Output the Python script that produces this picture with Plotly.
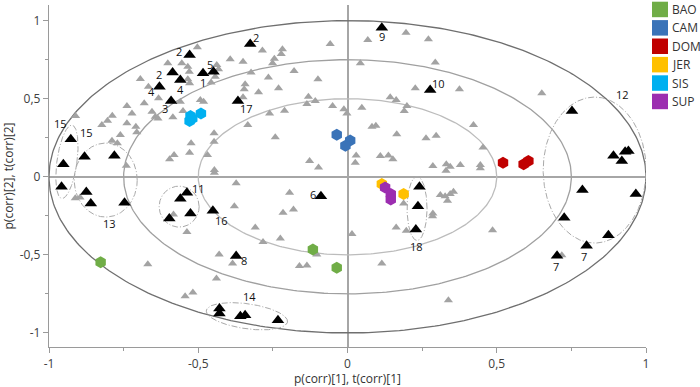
import numpy as np
import plotly.graph_objects as go

# ---------------- data ----------------
gray_x = [-0.503, -0.602, -0.555, -0.535, -0.530, -0.535, -0.529, -0.438, -0.432, -0.393, -0.443, -0.457,
          -0.694, -0.667, -0.633, -0.681, -0.739, -0.722, -0.788, -0.823, -0.804, -0.739, -0.709, -0.706,
          -0.761, -0.789, -0.771, -0.741, -0.655, -0.644, -0.635, -0.585, -0.560, -0.493, -0.482, -0.524,
          -0.529, -0.596, -0.581, -0.469, -0.447, -0.447, -0.446, -0.911, -0.551,
          -0.350, -0.285, -0.218, -0.222, -0.245, -0.251, -0.058, -0.323, -0.265, -0.179, -0.099, -0.343,
          -0.346, -0.298, -0.231, -0.350, -0.131, -0.108, -0.136, -0.050, -0.012, -0.002, 0.048, -0.261,
          -0.211, -0.334, -0.242, -0.127, -0.097, 0.029, 0.026, 0.068, 0.196, 0.271, 0.043, 0.294, 0.227,
          0.375, 0.143, 0.163, 0.199, 0.190, 0.082, 0.095, 0.165, 0.263, 0.297, 0.110, 0.137, 0.152, 0.286,
          0.331, 0.344, 0.378, 0.330, 0.651, 0.422, 0.454, 0.445, 0.445,
          -0.912, -0.896, -0.583, -0.538, -0.373, -0.379, -0.430, -0.385, -0.439, -0.669, -0.544, -0.518,
          -0.446, -0.194, -0.216, -0.181, -0.309, -0.283, -0.225, -0.103, -0.161, -0.136, 0.015, 0.115,
          0.163, 0.197, 0.188, 0.286, 0.285, 0.311, 0.327, 0.344, 0.355, 0.335, 0.338, 0.718, 0.486]
gray_y = [0.829, 0.727, 0.727, 0.705, 0.673, 0.624, 0.599, 0.716, 0.688, 0.753, 0.641, 0.603,
          0.626, 0.577, 0.503, 0.471, 0.453, 0.406, 0.391, 0.331, 0.359, 0.342, 0.321, 0.285,
          0.267, 0.231, 0.214, 0.071, 0.417, 0.385, 0.374, 0.381, 0.481, 0.492, 0.481, 0.214,
          0.154, 0.112, 0.139, 0.139, 0.278, 0.224, 0.026, 0.389, 0.421,
          0.737, 0.808, 0.817, 0.787, 0.756, 0.727, 0.851, 0.667, 0.635, 0.678, 0.624, 0.592,
          0.560, 0.541, 0.567, 0.509, 0.513, 0.485, 0.466, 0.453, 0.432, 0.406, 0.442, 0.406,
          0.423, 0.331, 0.253, 0.101, 0.060, 0.137, 0.090, 0.876, 0.923, 0.881, 0.727, 0.731, 0.567,
          0.560, 0.509, 0.492, 0.453, 0.421, 0.321, 0.327, 0.272, 0.246, 0.263, 0.133, 0.137, 0.113, 0.069,
          0.081, 0.064, 0.075, 0.038, 0.535, 0.331, 0.188, 0.075, 0.054,
          -0.137, -0.132, -0.241, -0.354, -0.042, -0.188, -0.497, -0.555, -0.651, -0.560, -0.765, -0.741,
          0.043, -0.103, -0.231, -0.209, -0.324, -0.417, -0.395, -0.497, -0.572, -0.568, -0.367, -0.555,
          -0.324, -0.346, -0.171, -0.235, -0.252, -0.117, -0.124, -0.111, -0.096, -0.154, -0.790, -0.502, -0.342]

black_x = [-0.529, -0.326, -0.586, -0.560, -0.630, -0.591, -0.484, -0.449, -0.367, 0.115, 0.277,
           -0.927, -0.881, -0.781, -0.952, -0.958, -0.875, -0.860, -0.747, -0.560, -0.538, -0.526, -0.597,
           -0.451, -0.373, -0.089, -0.429, -0.429, -0.359, -0.343, -0.233, 0.241, 0.236, 0.229,
           0.752, 0.891, 0.930, 0.941, 0.919, 0.787, 0.966, 0.726, 0.874, 0.801, 0.702]
black_y = [0.780, 0.851, 0.667, 0.620, 0.577, 0.485, 0.663, 0.673, 0.485, 0.955, 0.556,
           0.240, 0.128, 0.135, 0.081, -0.064, -0.098, -0.171, -0.167, -0.141, -0.103, -0.235, -0.267,
           -0.218, -0.508, -0.124, -0.844, -0.876, -0.893, -0.887, -0.919, -0.064, -0.188, -0.337,
           0.421, 0.135, 0.160, 0.165, 0.101, -0.085, -0.111, -0.263, -0.374, -0.442, -0.506]

label_text = ["2", "2", "2", "4", "4", "3", "1", "5", "17", "9", "10", "15", "15", "13", "11",
              "16", "8", "6", "14", "18", "12", "7", "7"]
label_x = [-0.566, -0.306, -0.631, -0.658, -0.560, -0.611, -0.484, -0.460, -0.339, 0.115, 0.305,
           -0.962, -0.875, -0.797, -0.500, -0.423, -0.346, -0.114, -0.328, 0.232, 0.921, 0.793, 0.698]
label_y = [0.801, 0.891, 0.652, 0.545, 0.560, 0.438, 0.603, 0.716, 0.438, 0.897, 0.599,
           0.342, 0.282, -0.299, -0.074, -0.282, -0.534, -0.111, -0.769, -0.449, 0.528, -0.508, -0.572]

groups = ["BAO", "CAM", "DOM", "JER", "SIS", "SUP"]
group_colors = ["#70AD47", "#3A73B8", "#C00000", "#FFC000", "#00B0F0", "#9C2DB0"]
BAO_x = [-0.827, -0.116, -0.036]
BAO_y = [-0.547, -0.465, -0.583]
CAM_x = [-0.036, 0.009, -0.007]
CAM_y = [0.269, 0.233, 0.199]
DOM_x = [0.521, 0.590, 0.606]
DOM_y = [0.090, 0.081, 0.101]
JER_x = [0.115, 0.188]
JER_y = [-0.047, -0.111]
SIS_x = [-0.526, -0.491, -0.529, -0.520]
SIS_y = [0.389, 0.406, 0.357, 0.373]
SUP_x = [0.126, 0.145, 0.145]
SUP_y = [-0.068, -0.111, -0.145]
group_x = [BAO_x, CAM_x, DOM_x, JER_x, SIS_x, SUP_x]
group_y = [BAO_y, CAM_y, DOM_y, JER_y, SIS_y, SUP_y]

# concentric reference ellipses (radius in axis units)
ring_r = [1.0, 0.75, 0.5]
ring_colors = ["#6f6f6f", "#a0a0a0", "#bcbcbc"]

# small cluster ellipses: center (data), half-axes (px), rotation (deg)
cl_cx = [-0.940, -0.810, -0.564, -0.337, 0.233, 0.828]
cl_cy = [0.096, -0.021, -0.191, -0.893, -0.203, 0.043]
cl_a = [10, 31.5, 20, 41, 10, 51.5]
cl_b = [37, 37, 20.5, 12.5, 32, 73]
cl_rot = [-8, 0, 0, -8, 0, 0]

# ---------------- layout geometry ----------------
W, H = 700, 387
ML, MR, MT, MB = 49, 54, 5, 40
XR = [-1.0, 1.0]
YR = [-1.09, 1.10]
SX = (W - ML - MR) / (XR[1] - XR[0])
SY = (H - MT - MB) / (YR[1] - YR[0])

fig = go.Figure()

t = np.linspace(0, 2 * np.pi, 361)
for r, c in zip(ring_r, ring_colors):
    fig.add_trace(go.Scatter(x=r * np.cos(t), y=r * np.sin(t), mode="lines",
                             line=dict(color=c, width=1.3), hoverinfo="skip", showlegend=False))

for cx, cy, a, b, rot in zip(cl_cx, cl_cy, cl_a, cl_b, cl_rot):
    th = np.radians(rot)
    ex = a * np.cos(t) * np.cos(th) - b * np.sin(t) * np.sin(th)
    ey = a * np.cos(t) * np.sin(th) + b * np.sin(t) * np.cos(th)
    fig.add_trace(go.Scatter(x=cx + ex / SX, y=cy + ey / SY, mode="lines",
                             line=dict(color="#a9a9a9", width=1, dash="6px,2px,1px,2px"),
                             hoverinfo="skip", showlegend=False))

fig.add_trace(go.Scatter(x=gray_x, y=gray_y, mode="markers",
                         marker=dict(symbol="triangle-up", size=8, color="#A3A3A3", line=dict(width=0)),
                         showlegend=False))
fig.add_trace(go.Scatter(x=black_x, y=black_y, mode="markers",
                         marker=dict(symbol="triangle-up", size=11, color="#000000", line=dict(width=0)),
                         showlegend=False))

for name, col, gx, gy in zip(groups, group_colors, group_x, group_y):
    fig.add_trace(go.Scatter(x=gx, y=gy, mode="markers", name=name,
                             marker=dict(symbol="hexagon", size=12, color=col, line=dict(width=0)),
                             showlegend=False))

for txt, lx, ly in zip(label_text, label_x, label_y):
    fig.add_annotation(x=lx, y=ly, text=txt, showarrow=False,
                       font=dict(size=11, color="#111111", family="Open Sans"))

# manual legend
leg_top_px = 1.7
leg_step_px = 18.4
sq_px = 16
for i, (name, col) in enumerate(zip(groups, group_colors)):
    y0 = leg_top_px + i * leg_step_px
    y1 = y0 + sq_px - 0.5
    fig.add_shape(type="rect", xref="paper", yref="paper",
                  x0=(652 - ML) / (W - ML - MR), x1=(668 - ML) / (W - ML - MR),
                  y0=(H - MB - y1) / (H - MT - MB), y1=(H - MB - y0) / (H - MT - MB),
                  fillcolor=col, line=dict(width=0))
    fig.add_annotation(xref="paper", yref="paper", x=(670 - ML) / (W - ML - MR),
                       y=(H - MB - (y0 + y1) / 2) / (H - MT - MB), xanchor="left", yanchor="middle",
                       text=name, showarrow=False, font=dict(size=12, color="#333333", family="Open Sans"))

axis_common = dict(showgrid=False, zeroline=True, zerolinecolor="#a6a6a6", zerolinewidth=2,
                   showline=True, linecolor="#9a9a9a", linewidth=1.3, ticks="outside", ticklen=5,
                   tickcolor="#9a9a9a", tickwidth=1, mirror=False,
                   tickfont=dict(size=12, color="#404040", family="Open Sans"),
                   minor=dict(ticks="outside", ticklen=3, tickcolor="#9a9a9a",
                              tickvals=[-0.75, -0.25, 0.25, 0.75]),
                   tickmode="array", tickvals=[-1, -0.5, 0, 0.5, 1],
                   ticktext=["-1", "-0,5", "0", "0,5", "1"])

fig.update_xaxes(range=XR, title=dict(text="p(corr)[1], t(corr)[1]", standoff=4,
                 font=dict(size=12, color="#333333", family="Open Sans")), **axis_common)
fig.update_yaxes(range=YR, title=dict(text="p(corr)[2], t(corr)[2]", standoff=6,
                 font=dict(size=12, color="#333333", family="Open Sans")), **axis_common)

fig.update_layout(width=W, height=H, margin=dict(l=ML, r=MR, t=MT, b=MB, autoexpand=False),
                  plot_bgcolor="white", paper_bgcolor="white", showlegend=False,
                  font=dict(family="Open Sans"), hovermode=False)

fig.write_html("out.html", config={"displayModeBar": False},
               post_script="document.body.style.margin='0px';document.body.style.padding='0px';")
